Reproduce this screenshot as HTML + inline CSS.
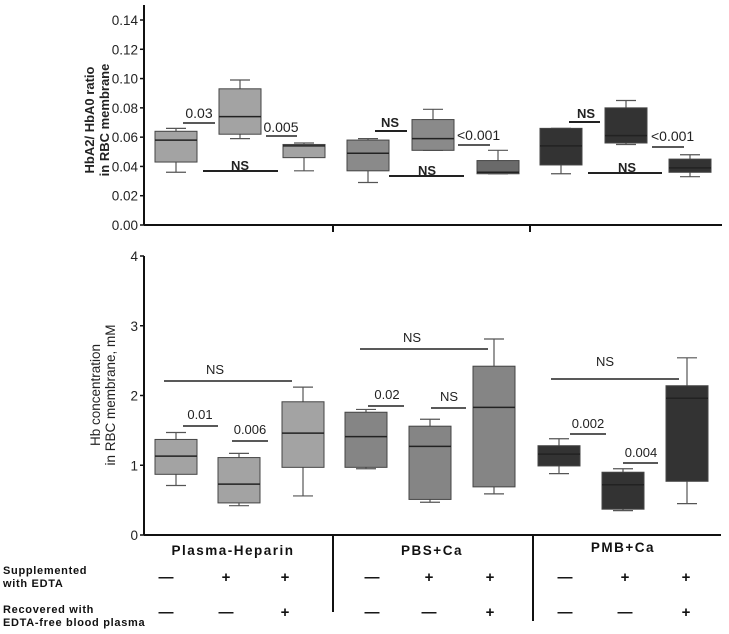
<!DOCTYPE html>
<html><head><meta charset="utf-8"><style>
html,body{margin:0;padding:0;background:#fff;}
svg{display:block;font-family:"Liberation Sans",Arial,sans-serif;}
</style></head><body>
<svg id="chart" width="729" height="634" viewBox="0 0 729 634"></svg>
<script>
// ---- data ----
const groups = ["Plasma-Heparin","PBS+Ca","PMB+Ca"];
const topTicks = ["0.00","0.02","0.04","0.06","0.08","0.10","0.12","0.14"];
const topTickVals = [0,0.02,0.04,0.06,0.08,0.10,0.12,0.14];
// [min, q1, median, q3, max]
const topMin = [0.036,0.059,0.037,0.029,0.051,0.035,0.035,0.055,0.033];
const topQ1  = [0.043,0.062,0.046,0.037,0.051,0.035,0.041,0.056,0.036];
const topMed = [0.058,0.074,0.054,0.049,0.059,0.036,0.054,0.061,0.039];
const topQ3  = [0.064,0.093,0.055,0.058,0.072,0.044,0.066,0.080,0.045];
const topMax = [0.066,0.099,0.056,0.059,0.079,0.051,0.066,0.085,0.048];
const botTicks = ["0","1","2","3","4"];
const botTickVals = [0,1,2,3,4];
const botMin = [0.71,0.42,0.56,0.95,0.47,0.59,0.88,0.35,0.45];
const botQ1  = [0.87,0.46,0.97,0.97,0.51,0.69,0.99,0.37,0.77];
const botMed = [1.13,0.73,1.46,1.41,1.27,1.83,1.16,0.72,1.96];
const botQ3  = [1.37,1.11,1.91,1.76,1.56,2.42,1.28,0.90,2.14];
const botMax = [1.47,1.17,2.12,1.80,1.66,2.81,1.38,0.95,2.54];
const supplemented = ["—","+","+","—","+","+","—","+","+"];
const recovered    = ["—","—","+","—","—","+","—","—","+"];

// ---- layout ----
const NS="http://www.w3.org/2000/svg";
const svg=document.getElementById('chart');
function mk(tag,attrs,parent,text){const e=document.createElementNS(NS,tag);for(const k in attrs)e.setAttribute(k,attrs[k]);if(text!==undefined)e.textContent=text;(parent||svg).appendChild(e);return e;}
const topY=v=>225-v/0.14*205;
const botY=v=>535-v/4*279;
const topX=[155,219,283,347,412,477,540,605,669];
const botX=[155,218,282,345,409,473,538,602,666];
const boxW=42;
const topFills=["#a3a3a3","#a3a3a3","#a3a3a3","#8a8a8a","#8a8a8a","#6a6a6a","#333","#333","#333"];
const botFills=["#a3a3a3","#a3a3a3","#a3a3a3","#858585","#858585","#858585","#333","#333","#333"];
const colX=[166,226,285,372,429,490,565,625,686];

function axis(yf,ticks,vals,top,bottom,name){
  const g=mk('g',{});
  
  mk('line',{x1:144,y1:top,x2:144,y2:bottom,stroke:'#111','stroke-width':2},g);
  vals.forEach((v,i)=>{const y=yf(v);
    mk('line',{x1:140,y1:y,x2:144,y2:y,stroke:'#111','stroke-width':1.5},g);
    const t=mk('text',{x:138,y:y+5,'text-anchor':'end','font-size':13.5,fill:'#222'},g,ticks[i]);
    });
}
function boxes(xs,yf,mn,q1,md,q3,mx,fills,name){
  xs.forEach((x,i)=>{const g=mk('g',{});
    
    const cx=x+boxW/2;
    mk('line',{x1:cx,y1:yf(mx[i]),x2:cx,y2:yf(mn[i]),stroke:'#555','stroke-width':1.2},g);
    mk('line',{x1:cx-10,y1:yf(mx[i]),x2:cx+10,y2:yf(mx[i]),stroke:'#555','stroke-width':1.2},g);
    mk('line',{x1:cx-10,y1:yf(mn[i]),x2:cx+10,y2:yf(mn[i]),stroke:'#555','stroke-width':1.2},g);
    mk('rect',{x:x,y:yf(q3[i]),width:boxW,height:Math.max(1,yf(q1[i])-yf(q3[i])),fill:fills[i],stroke:'#444','stroke-width':1},g);
    mk('line',{x1:x,y1:yf(md[i]),x2:x+boxW,y2:yf(md[i]),stroke:'#222','stroke-width':1.5},g);
  });
}
function ann(x1,x2,y,label,tx,ty,bold,size,anchor){
  const g=mk('g',{});
  
  mk('line',{x1:x1,y1:y,x2:x2,y2:y,stroke:'#222','stroke-width':bold?2:1.5},g);
  mk('text',{x:tx,y:ty,'text-anchor':anchor||'middle','font-size':size||13,'font-weight':bold?'bold':'normal',fill:'#222'},g,label);
}

// top panel
axis(topY,topTicks,topTickVals,5,225,'top-y-axis');
mk('line',{x1:144,y1:225,x2:722,y2:225,stroke:'#111','stroke-width':2});
mk('line',{x1:333,y1:225,x2:333,y2:232,stroke:'#111','stroke-width':2});
mk('line',{x1:530,y1:225,x2:530,y2:232,stroke:'#111','stroke-width':2});
boxes(topX,topY,topMin,topQ1,topMed,topQ3,topMax,topFills,'top');
const tt=mk('text',{transform:'translate(98,120) rotate(-90)','text-anchor':'middle','font-size':13,'font-weight':'bold',fill:'#222'});

mk('tspan',{x:0,dy:-4},tt,'HbA2/ HbA0 ratio');mk('tspan',{x:0,dy:15},tt,'in RBC membrane');
ann(183,215,123,'0.03',199,118,false,14);
ann(203,278,171,'NS',240,170,true,13);
ann(266,297,136,'0.005',281,132,false,14);
ann(375,407,131,'NS',390,127,true,13);
ann(458,490,145,'<0.001',457,140,false,14,'start');
ann(389,464,176,'NS',427,175,true,13);
ann(569,600,122,'NS',586,118,true,13);
ann(652,684,147,'<0.001',651,141,false,14,'start');
ann(588,662,173,'NS',627,172,true,13);

// bottom panel
axis(botY,botTicks,botTickVals,256,535,'bottom-y-axis');
mk('line',{x1:144,y1:535,x2:721,y2:535,stroke:'#111','stroke-width':2});
mk('line',{x1:333,y1:535,x2:333,y2:612,stroke:'#111','stroke-width':2});
mk('line',{x1:533,y1:535,x2:533,y2:621,stroke:'#111','stroke-width':2});
boxes(botX,botY,botMin,botQ1,botMed,botQ3,botMax,botFills,'bottom');
const bt=mk('text',{transform:'translate(104,395) rotate(-90)','text-anchor':'middle','font-size':13.5,fill:'#222'});

mk('tspan',{x:0,dy:-4},bt,'Hb concentration');mk('tspan',{x:0,dy:15},bt,'in RBC membrane, mM');
ann(164,292,381,'NS',215,374,false,13);
ann(183,218,426,'0.01',200,419,false,13);
ann(232,268,441,'0.006',250,434,false,13);
ann(360,488,349,'NS',412,342,false,13);
ann(368,404,406,'0.02',387,399,false,13);
ann(431,466,408,'NS',449,401,false,13);
ann(551,679,379,'NS',605,366,false,13);
ann(570,606,434,'0.002',588,428,false,13);
ann(623,658,463,'0.004',641,457,false,13);

// group labels
const gx=[233,432,623], gy=[555,555,552];
groups.forEach((g,i)=>{const t=mk('text',{x:gx[i],y:gy[i],'text-anchor':'middle','font-size':13.5,'font-weight':'bold','letter-spacing':'1.5',fill:'#111'},svg,g);
  });
// sign rows
colX.forEach((x,i)=>{
  const a=mk('text',{x:x,y:582,'text-anchor':'middle','font-size':15,'font-weight':'bold',fill:'#111'},svg,supplemented[i]);
  
  const b=mk('text',{x:x,y:617,'text-anchor':'middle','font-size':15,'font-weight':'bold',fill:'#111'},svg,recovered[i]);
  
});
[['Supplemented',574],['with EDTA',587],['Recovered with',613],['EDTA-free blood plasma',626]].forEach(r=>{
  const t=mk('text',{x:3,y:r[1],'font-size':11,'font-weight':'bold','letter-spacing':'0.7',fill:'#111'},svg,r[0]);
  
});
</script>
</body></html>
